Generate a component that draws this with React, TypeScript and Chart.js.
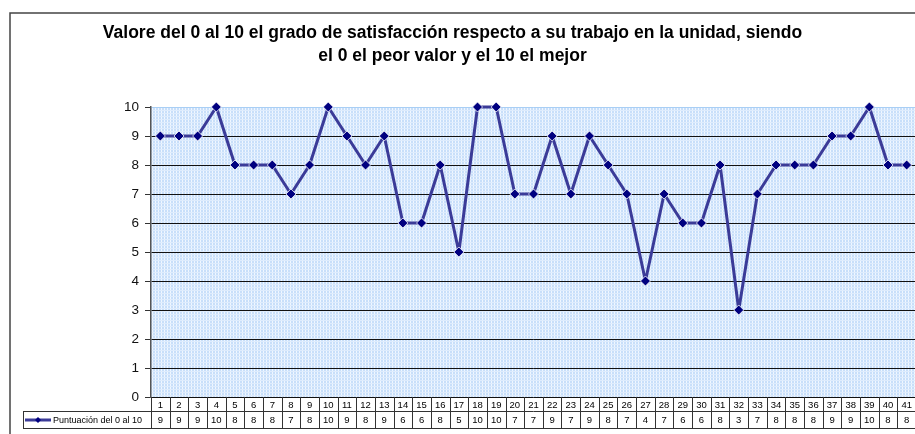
import React, { useEffect, useRef } from "react";
import { Chart, registerables } from "chart.js";

Chart.register(...registerables);

const categories: string[] = [
  "1","2","3","4","5","6","7","8","9","10","11","12","13","14","15","16","17","18","19","20",
  "21","22","23","24","25","26","27","28","29","30","31","32","33","34","35","36","37","38","39","40","41",
];
const puntuacion: number[] = [
  9, 9, 9, 10, 8, 8, 8, 7, 8, 10, 9, 8, 9, 6, 6, 8, 5, 10, 10, 7,
  7, 9, 7, 9, 8, 7, 4, 7, 6, 6, 8, 3, 7, 8, 8, 8, 9, 9, 10, 8, 8,
];
const seriesName = "Puntuación del 0 al 10";
const titleLines: string[] = [
  "Valore del 0 al 10 el grado de satisfacción respecto a su trabajo en la unidad, siendo",
  "el 0 el peor valor y el 10 el mejor",
];

const FONT = "Arial, 'Liberation Sans', sans-serif";
const LINE_COLOR = "#3b3b98";
const MARKER_COLOR = "#000080";

function makePattern(): CanvasPattern | string {
  const tile = document.createElement("canvas");
  tile.width = 3;
  tile.height = 3;
  const c = tile.getContext("2d");
  if (!c) return "#d4e7fb";
  c.fillStyle = "#c8dffa";
  c.fillRect(0, 0, 3, 3);
  c.fillStyle = "#f0f7ff";
  c.fillRect(2, 0, 1, 2);
  c.fillStyle = "#deecfd";
  c.fillRect(0, 2, 3, 1);
  const p = c.createPattern(tile, "repeat");
  return p || "#d4e7fb";
}

export default function App() {
  const ref = useRef<HTMLCanvasElement | null>(null);

  useEffect(() => {
    const canvas = ref.current;
    if (!canvas) return;
    const pattern = makePattern();

    const decor = {
      id: "decor",
      beforeDraw(chart: any) {
        const { ctx, chartArea } = chart;
        ctx.save();
        ctx.fillStyle = "#ffffff";
        ctx.fillRect(0, 0, chart.width, chart.height);
        ctx.strokeStyle = "#444";
        ctx.lineWidth = 1.5;
        ctx.strokeRect(10, 13, 3000, 3000);
        ctx.fillStyle = pattern as any;
        ctx.fillRect(chartArea.left, chartArea.top, chartArea.right - chartArea.left, chartArea.bottom - chartArea.top);
        ctx.fillStyle = "#000";
        ctx.font = "bold 17.5px " + FONT;
        ctx.textAlign = "center";
        ctx.textBaseline = "alphabetic";
        ctx.fillText(titleLines[0], 452.5, 38);
        ctx.fillText(titleLines[1], 452.5, 61);
        ctx.restore();
      },
      afterDraw(chart: any) {
        const { ctx, chartArea } = chart;
        const xs = chart.scales.x;
        const n = categories.length;
        const w = (chartArea.right - chartArea.left) / n;
        const y0 = chartArea.bottom;
        const y1 = y0 + 14;
        const y2 = y1 + 17;
        const legendLeft = 23;
        ctx.save();
        ctx.strokeStyle = "#333";
        ctx.lineWidth = 1;
        ctx.beginPath();
        ctx.moveTo(chartArea.left, Math.round(y1) + 0.5);
        ctx.lineTo(chartArea.right, Math.round(y1) + 0.5);
        ctx.moveTo(legendLeft, Math.round(y1) + 0.5);
        ctx.lineTo(chartArea.left, Math.round(y1) + 0.5);
        ctx.moveTo(legendLeft, Math.round(y2) + 0.5);
        ctx.lineTo(chartArea.right, Math.round(y2) + 0.5);
        for (let i = 0; i <= n; i++) {
          const x = Math.round(chartArea.left + i * w) + 0.5;
          ctx.moveTo(x, y0);
          ctx.lineTo(x, Math.round(y2) + 0.5);
        }
        ctx.moveTo(legendLeft + 0.5, Math.round(y1) + 0.5);
        ctx.lineTo(legendLeft + 0.5, Math.round(y2) + 0.5);
        ctx.stroke();

        ctx.fillStyle = "#000";
        ctx.font = "9.5px " + FONT;
        ctx.textAlign = "center";
        ctx.textBaseline = "middle";
        for (let i = 0; i < n; i++) {
          const cx = xs.getPixelForValue(i);
          ctx.fillText(categories[i], cx, (y0 + y1) / 2 + 1);
          ctx.fillText(String(puntuacion[i]), cx, (y1 + y2) / 2 + 1);
        }
        const ly = (y1 + y2) / 2 + 0.5;
        ctx.strokeStyle = LINE_COLOR;
        ctx.lineWidth = 3;
        ctx.beginPath();
        ctx.moveTo(legendLeft + 2, ly);
        ctx.lineTo(legendLeft + 28, ly);
        ctx.stroke();
        ctx.fillStyle = MARKER_COLOR;
        ctx.beginPath();
        const mx = legendLeft + 15;
        ctx.moveTo(mx, ly - 3);
        ctx.lineTo(mx + 3, ly);
        ctx.lineTo(mx, ly + 3);
        ctx.lineTo(mx - 3, ly);
        ctx.closePath();
        ctx.fill();
        ctx.fillStyle = "#000";
        ctx.textAlign = "left";
        ctx.font = "9px " + FONT;
        ctx.fillText(seriesName, legendLeft + 30, ly + 0.5);
        ctx.restore();
      },
    };

    const chart = new Chart(canvas, {
      type: "line",
      data: {
        labels: categories,
        datasets: [
          {
            label: seriesName,
            data: puntuacion,
            borderColor: LINE_COLOR,
            borderWidth: 3,
            borderJoinStyle: "round",
            pointStyle: "rectRot",
            pointRadius: 5,
            pointBackgroundColor: MARKER_COLOR,
            pointBorderColor: "#ffffff",
            pointBorderWidth: 0.8,
            tension: 0,
            clip: false,
          } as any,
        ],
      },
      options: {
        responsive: false,
        animation: false,
        events: [],
        layout: { padding: { top: 107, bottom: 37, left: 0, right: 14 } },
        plugins: {
          legend: { display: false },
          title: { display: false },
          tooltip: { enabled: false },
        },
        scales: {
          x: {
            type: "category",
            display: false,
            offset: true,
          },
          y: {
            min: 0,
            max: 10,
            ticks: {
              stepSize: 1,
              color: "#111",
              font: { family: FONT, size: 13.5 },
              padding: 6,
            },
            grid: {
              color: (c: any) => (c.tick && c.tick.value === 10 ? "#a9cff5" : "#111"),
              lineWidth: 1,
              drawTicks: true,
              tickLength: 6,
              tickColor: "#333",
            },
            border: { color: "#555", width: 1.5 },
            afterFit: (scale: any) => {
              scale.width = 151;
            },
          },
        },
      },
      plugins: [decor],
    });
    return () => chart.destroy();
  }, []);

  return (
    <div
      style={{
        position: "fixed",
        left: 0,
        top: 0,
        width: 915,
        height: 434,
        overflow: "hidden",
        background: "#fff",
      }}
    >
      <canvas ref={ref} width={930} height={434} style={{ width: 930, height: 434, display: "block" }} />
    </div>
  );
}
